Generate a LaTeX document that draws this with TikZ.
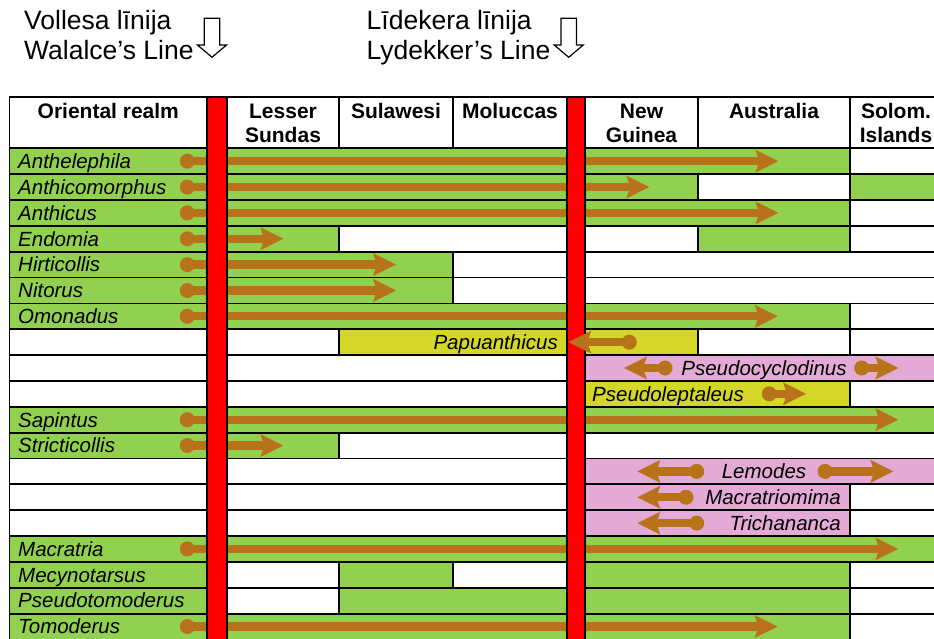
\documentclass[tikz,border=0pt]{standalone}
\usepackage{fontspec}
\setmainfont{Liberation Sans}
\usetikzlibrary{arrows.meta}

\definecolor{realmgreen}{HTML}{92D050}
\definecolor{papuayellow}{HTML}{D4D628}
\definecolor{rangepink}{HTML}{E2AAD4}
\definecolor{rangebrown}{HTML}{B8731A}

\tikzset{
  cellline/.style={draw=black, line width=1.8pt},
  redline/.style={fill=red, draw=black, line width=1.8pt},
  taxon/.style={font=\fontsize{20.5}{24}\selectfont\itshape, inner sep=0pt},
  head/.style={font=\fontsize{21}{24}\selectfont\bfseries, inner sep=0pt, anchor=base},
  linelabel/.style={font=\fontsize{26.5}{30}\selectfont, inner sep=0pt, anchor=base west},
  rangearrow/.style={draw=rangebrown, line width=8.3pt,
    -{Stealth[length=23pt, width=23pt, inset=4pt, line width=0pt]}},
  rangedot/.style={fill=rangebrown},
  downblk/.pic={
    \draw[line width=1.2pt, fill=white] (-7.7,18.3) -- (7.7,18.3) -- (7.7,45)
      -- (14.5,45) -- (0,57.3) -- (-14.5,45) -- (-7.7,45) -- cycle;
  }
}

% one table row: list of x1/x2/colour
\newcommand{\rowcells}[2]{%
  \foreach \a/\b/\c in {#2}
    \draw[cellline, fill=\c] (\a,{148.3+25.85*#1}) rectangle (\b,{148.3+25.85*(#1+1)});%
}

\begin{document}
\begin{tikzpicture}[x=1pt, y=-1pt]

\path[use as bounding box, clip] (0,0) rectangle (934,639);
\fill[white] (0,0) rectangle (934,639);

% titles
\node[linelabel] (wal1) at (24,30) {Vollesa līnija};
\node[linelabel] (wal2) at (24,59.3) {Walalce’s Line};
\node[linelabel] (lyd1) at (366.5,30) {Līdekera līnija};
\node[linelabel] (lyd2) at (366.5,59.3) {Lydekker’s Line};
\pic (walarrow) at (212,0) {downblk};
\pic (lydarrow) at (568.7,0) {downblk};

% header
\foreach \a/\b in {9.5/207, 227/339, 339/453, 453/567, 585/698, 698/850, 850/960}
  \draw[cellline, fill=white] (\a,97.3) rectangle (\b,148.3);

% rows
\rowcells{0}{9.5/207/realmgreen, 227/567/realmgreen, 585/850/realmgreen, 850/960/white}
\rowcells{1}{9.5/207/realmgreen, 227/567/realmgreen, 585/698/realmgreen, 698/850/white, 850/960/realmgreen}
\rowcells{2}{9.5/207/realmgreen, 227/567/realmgreen, 585/850/realmgreen, 850/960/white}
\rowcells{3}{9.5/207/realmgreen, 227/339/realmgreen, 339/567/white, 585/698/white, 698/850/realmgreen, 850/960/white}
\rowcells{4}{9.5/207/realmgreen, 227/453/realmgreen, 453/567/white, 585/960/white}
\rowcells{5}{9.5/207/realmgreen, 227/453/realmgreen, 453/567/white, 585/960/white}
\rowcells{6}{9.5/207/realmgreen, 227/567/realmgreen, 585/850/realmgreen, 850/960/white}
\rowcells{7}{9.5/207/white, 227/339/white, 339/567/papuayellow, 585/698/papuayellow, 698/850/white, 850/960/white}
\rowcells{8}{9.5/207/white, 227/567/white, 585/960/rangepink}
\rowcells{9}{9.5/207/white, 227/567/white, 585/850/papuayellow, 850/960/white}
\rowcells{10}{9.5/207/realmgreen, 227/567/realmgreen, 585/960/realmgreen}
\rowcells{11}{9.5/207/realmgreen, 227/339/realmgreen, 339/567/white, 585/960/white}
\rowcells{12}{9.5/207/white, 227/567/white, 585/960/rangepink}
\rowcells{13}{9.5/207/white, 227/567/white, 585/850/rangepink, 850/960/white}
\rowcells{14}{9.5/207/white, 227/567/white, 585/850/rangepink, 850/960/white}
\rowcells{15}{9.5/207/realmgreen, 227/567/realmgreen, 585/960/realmgreen}
\rowcells{16}{9.5/207/realmgreen, 227/339/white, 339/453/realmgreen, 453/567/white, 585/850/realmgreen, 850/960/white}
\rowcells{17}{9.5/207/realmgreen, 227/339/white, 339/567/realmgreen, 585/850/realmgreen, 850/960/white}
\rowcells{18}{9.5/207/realmgreen, 227/567/realmgreen, 585/850/realmgreen, 850/960/white}

% ranges from the Oriental realm
\foreach \r/\a/\b [count=\i] in {0/187.3/778.3, 1/187.3/649.3, 2/187.3/778.3,
    3/187.3/283.3, 4/187.3/396, 5/187.3/396, 6/187.3/777.7, 10/187.3/898.3,
    11/187.3/283.3, 15/187.3/898.3, 18/187.3/777.5} {
  \coordinate (ls\i) at (\a,{161.2+25.85*\r});
  \coordinate (le\i) at (\b,{161.2+25.85*\r});
  \draw[rangearrow] (ls\i) -- (le\i);
  \fill[rangedot] (ls\i) circle[radius=7.5];
}

% Wallace and Lydekker lines
\draw[redline] (207,97.3) rectangle (227,660);
\draw[redline] (566.7,97.3) rectangle (585,660);

% ranges from New Guinea
\foreach \r/\a/\b [count=\i] in {7/629.3/568.3, 8/665/624, 8/861.7/898.3,
    9/769.3/806, 12/696.7/637.3, 12/825/893.3, 13/686/637.3, 14/696.7/637.3} {
  \coordinate (rs\i) at (\a,{161.2+25.85*\r});
  \coordinate (re\i) at (\b,{161.2+25.85*\r});
  \draw[rangearrow] (rs\i) -- (re\i);
  \fill[rangedot] (rs\i) circle[radius=7.5];
}

% header texts
\node[head] (hOR) at (108.3,118.3) {Oriental realm};
\node[head] (hLS) at (283,118.3) {Lesser};
\node[head] (hLSb) at (283,142.8) {Sundas};
\node[head] (hSU) at (396,118.3) {Sulawesi};
\node[head] (hMO) at (510,118.3) {Moluccas};
\node[head] (hNG) at (641.5,118.3) {New};
\node[head] (hNGb) at (641.5,142.8) {Guinea};
\node[head] (hAU) at (774,118.3) {Australia};
\node[head] (hSI) at (896,118.3) {Solom.};
\node[head] (hSIb) at (896,142.8) {Islands};

% genus names
\foreach \r/\t in {0/Anthelephila, 1/Anthicomorphus, 2/Anthicus, 3/Endomia,
    4/Hirticollis, 5/Nitorus, 6/Omonadus, 10/Sapintus, 11/Stricticollis,
    15/Macratria, 16/Mecynotarsus, 17/Pseudotomoderus, 18/Tomoderus}
  \node[taxon, anchor=base west] (t\r) at (18,{168.5+25.85*\r}) {\t};
\node[taxon, anchor=base east] (t7) at (558,{168.5+25.85*7}) {Papuanthicus};
\node[taxon, anchor=base] (t8) at (764,{168.5+25.85*8}) {Pseudocyclodinus};
\node[taxon, anchor=base west] (t9) at (592,{168.5+25.85*9}) {Pseudoleptaleus};
\node[taxon, anchor=base] (t12) at (764,{168.5+25.85*12}) {Lemodes};
\node[taxon, anchor=base east] (t13) at (841,{168.5+25.85*13}) {Macratriomima};
\node[taxon, anchor=base east] (t14) at (841,{168.5+25.85*14}) {Trichananca};

\end{tikzpicture}
\end{document}
